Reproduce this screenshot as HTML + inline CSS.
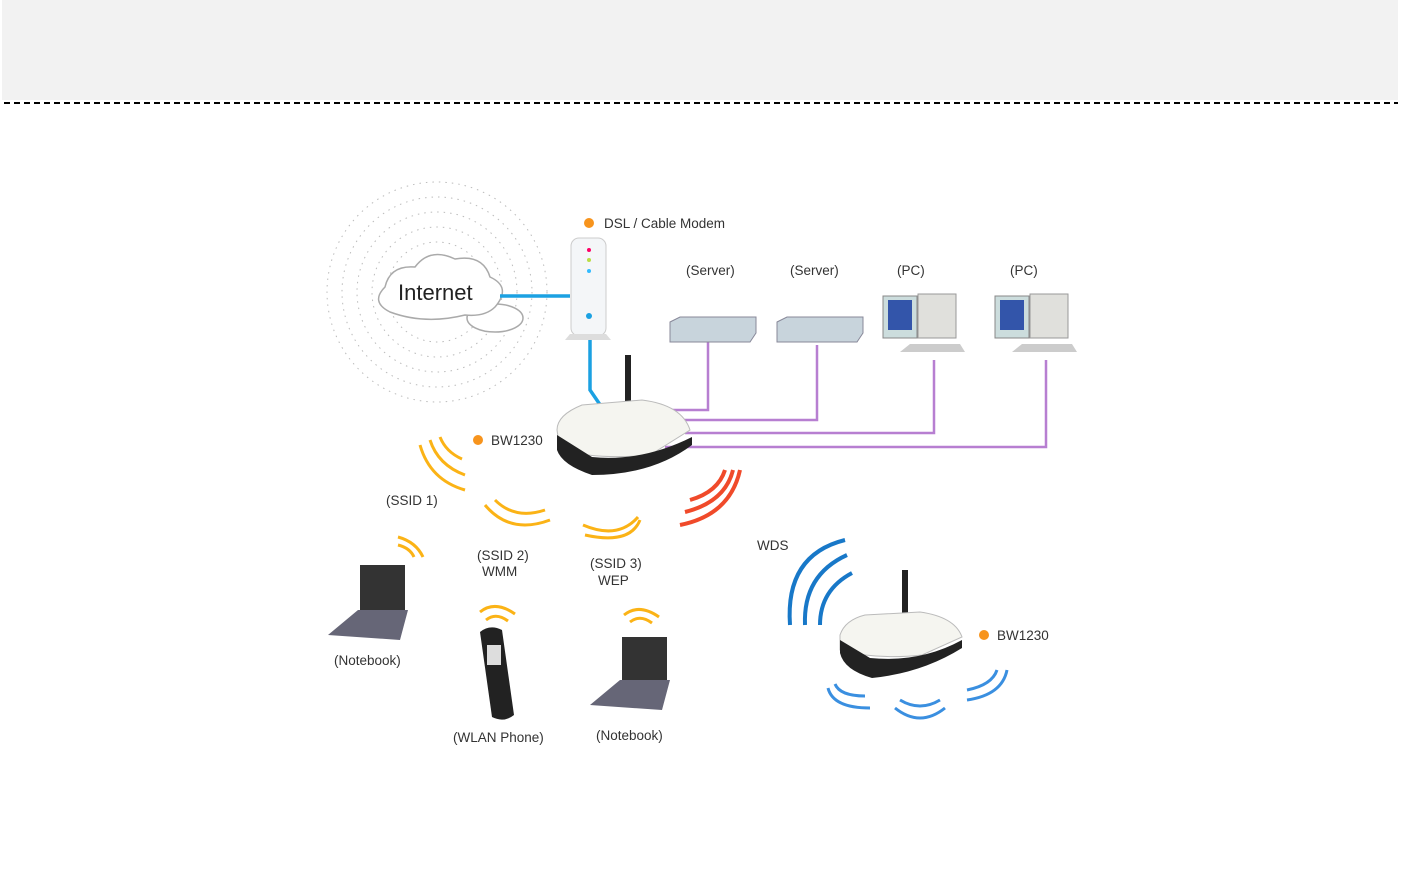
<!DOCTYPE html>
<html><head><style>
body{margin:0;width:1401px;height:871px;background:#fff;overflow:hidden;font-family:"Liberation Sans",sans-serif;}
#band{position:absolute;left:2px;top:0;width:1396px;height:100px;background:#f2f2f2;}
#dash{position:absolute;left:4px;top:102px;width:1394px;height:2px;background:repeating-linear-gradient(90deg,#000 0 6px,transparent 6px 10px);}
svg{position:absolute;left:0;top:0}
text{font-family:"Liberation Sans",sans-serif;fill:#333;font-size:13.5px}
</style></head><body>
<div id="band"></div><div id="dash"></div>
<svg width="1401" height="871">
<g fill="none" stroke="#bbb" stroke-dasharray="1.5 5">
<circle cx="437" cy="292" r="110"/><circle cx="437" cy="292" r="95"/><circle cx="437" cy="292" r="80"/><circle cx="437" cy="292" r="65"/><circle cx="437" cy="292" r="50"/>
</g>
<g fill="#fff" stroke="#aaa" stroke-width="1.5">
<ellipse cx="495" cy="318" rx="28" ry="14"/>
<path d="M390 312 q-20 -10 -5 -25 q5 -22 30 -20 q15 -20 40 -8 q28 -5 35 18 q22 10 5 30 q-10 10 -30 8 q-40 10 -75 -3z"/>
</g>
<text x="398" y="300" style="font-size:22px;fill:#222">Internet</text>
<g stroke="#1ba1e2" stroke-width="3.5" fill="none"><path d="M500 296 H570"/><path d="M590 340 V390 L605 412"/></g>
<g stroke="#b77fd1" stroke-width="2.5" fill="none">
<path d="M708 340 V410 H655"/><path d="M817 345 V420 H680"/><path d="M934 360 V433 H685"/><path d="M1046 360 V447 H665"/></g>
<rect x="571" y="238" width="35" height="98" rx="8" fill="#f4f6f8" stroke="#ccc"/>
<path d="M565 340 h46 l-5 -6 h-36z" fill="#ddd"/>
<circle cx="589" cy="250" r="2" fill="#f06"/><circle cx="589" cy="260" r="2" fill="#bd4"/><circle cx="589" cy="271" r="2" fill="#3bf"/><circle cx="589" cy="316" r="3" fill="#1ba1e2"/>
<circle cx="589" cy="223" r="5" fill="#f7941d"/><text x="604" y="228">DSL / Cable Modem</text>
<text x="686" y="275">(Server)</text><text x="790" y="275">(Server)</text><text x="897" y="275">(PC)</text><text x="1010" y="275">(PC)</text>
<g fill="#c8d4dc" stroke="#889"><path d="M670 322 l10 -5 h76 v16 l-6 9 h-80z"/><path d="M777 322 l10 -5 h76 v16 l-6 9 h-80z"/></g>
<g><rect x="883" y="296" width="34" height="42" fill="#cdd" stroke="#888"/><rect x="888" y="300" width="24" height="30" fill="#3355aa"/><rect x="918" y="294" width="38" height="44" fill="#e0e0dc" stroke="#999"/><path d="M900 352 l10 -8 h50 l5 8z" fill="#ccc"/>
<rect x="995" y="296" width="34" height="42" fill="#cdd" stroke="#888"/><rect x="1000" y="300" width="24" height="30" fill="#3355aa"/><rect x="1030" y="294" width="38" height="44" fill="#e0e0dc" stroke="#999"/><path d="M1012 352 l10 -8 h50 l5 8z" fill="#ccc"/></g>
<rect x="625" y="355" width="6" height="55" fill="#222"/>
<path d="M557 430 q0 -15 25 -25 l60 -5 q40 5 48 30 l-40 25 q-50 5 -90 -5z" fill="#f5f5f0" stroke="#bbb"/>
<path d="M557 435 l35 22 q50 5 100 -20 l0 8 q-40 30 -100 30 q-30 -10 -35 -25z" fill="#222"/>
<circle cx="478" cy="440" r="5" fill="#f7941d"/><text x="491" y="445">BW1230</text>
<g fill="none" stroke-width="3" stroke="#fbb316">
<path d="M420 445 q10 35 45 45"/><path d="M430 440 q8 25 35 35"/><path d="M440 437 q6 15 22 22"/>
<path d="M485 505 q25 30 65 15"/><path d="M495 500 q20 20 50 10"/>
<path d="M583 525 q35 15 55 -8"/><path d="M585 535 q45 10 55 -15"/>
<path d="M398 537 q18 5 25 20"/><path d="M398 545 q12 3 16 12"/>
<path d="M480 612 q15 -12 35 2"/><path d="M486 620 q10 -8 22 1"/>
<path d="M624 615 q15 -12 35 2"/><path d="M630 622 q10 -8 22 1"/></g>
<g fill="none" stroke-width="4" stroke="#f04a2a"><path d="M680 525 q50 -10 60 -55"/><path d="M685 512 q40 -10 48 -42"/><path d="M690 500 q28 -8 35 -30"/></g>
<text x="386" y="505">(SSID 1)</text><text x="477" y="560">(SSID 2)</text><text x="482" y="576">WMM</text><text x="590" y="568">(SSID 3)</text><text x="598" y="585">WEP</text>
<text x="757" y="550">WDS</text>
<g fill="none" stroke-width="4" stroke="#1878c8"><path d="M790 625 q-5 -70 55 -85"/><path d="M805 625 q-2 -50 42 -70"/><path d="M820 625 q0 -35 32 -52"/></g>
<g fill="none" stroke-width="3" stroke="#3a8fe0"><path d="M828 688 q5 20 42 20"/><path d="M835 684 q5 12 30 12"/><path d="M895 708 q25 20 50 0"/><path d="M900 700 q20 12 40 0"/><path d="M967 700 q35 -5 40 -30"/><path d="M967 690 q25 -5 30 -20"/></g>
<rect x="902" y="570" width="6" height="52" fill="#222"/>
<path d="M840 635 q5 -15 25 -20 l55 -3 q35 5 42 25 l-40 18 q-45 5 -82 -5z" fill="#f5f5f0" stroke="#bbb"/>
<path d="M840 640 l30 18 q50 5 92 -18 l0 8 q-40 25 -90 30 q-28 -8 -32 -25z" fill="#222"/>
<circle cx="984" cy="635" r="5" fill="#f7941d"/><text x="997" y="640">BW1230</text>
<path d="M360 565 h45 v45 h-45z" fill="#333"/><path d="M328 635 l30 -25 h50 l-8 30 z" fill="#667"/>
<text x="334" y="665">(Notebook)</text>
<path d="M480 632 q10 -8 22 -2 l12 85 q-10 8 -22 2z" fill="#222"/><rect x="487" y="645" width="14" height="20" fill="#ddd"/>
<text x="453" y="742">(WLAN Phone)</text>
<path d="M622 637 h45 v45 h-45z" fill="#333"/><path d="M590 705 l30 -25 h50 l-8 30 z" fill="#667"/>
<text x="596" y="740">(Notebook)</text>
</svg>
</body></html>
